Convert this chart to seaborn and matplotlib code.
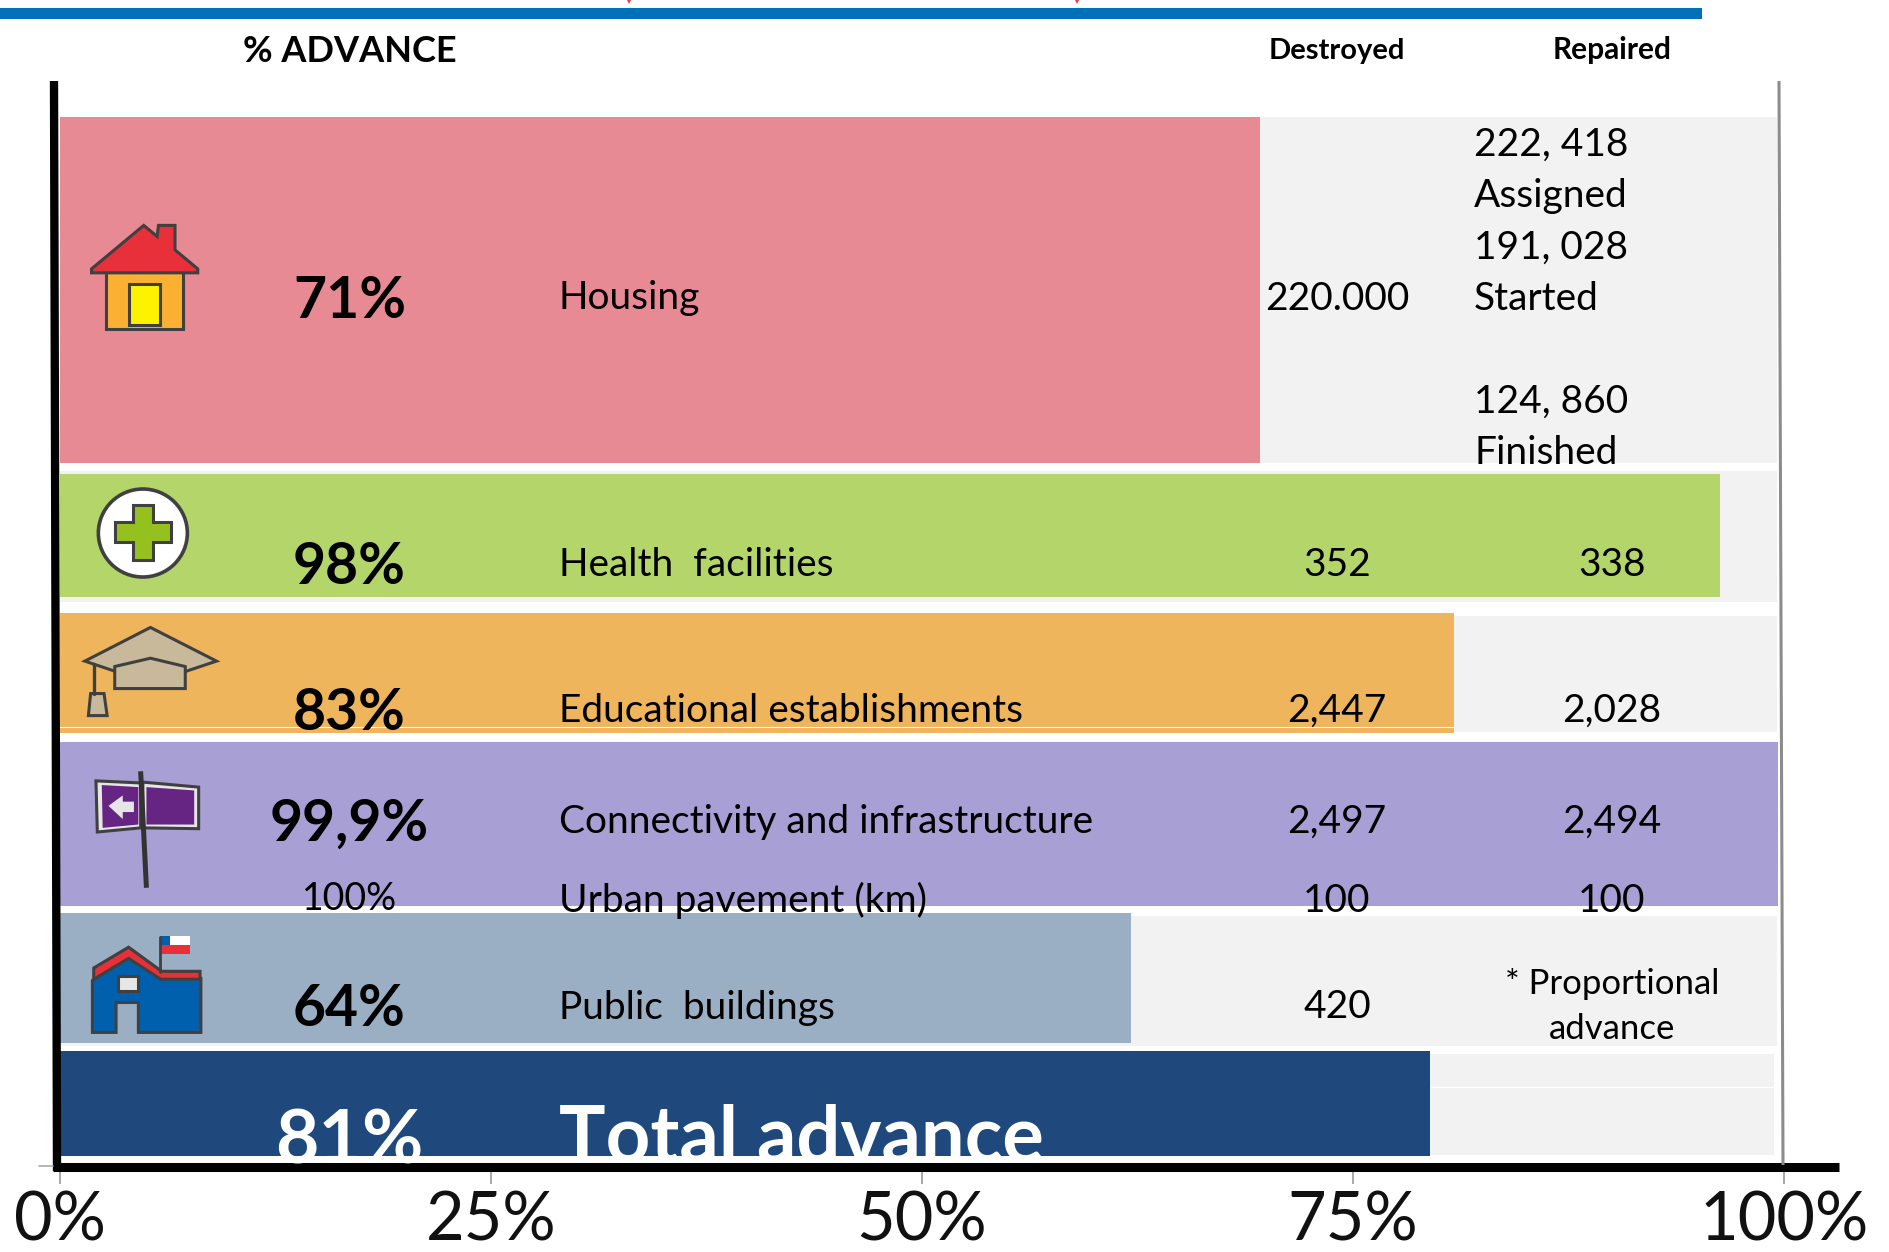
import matplotlib
matplotlib.use('Agg')
import matplotlib.pyplot as plt
from matplotlib.patches import Polygon, Rectangle, Ellipse
import pandas as pd
import seaborn as sns

categories = ['Housing', 'Health  facilities', 'Educational establishments',
              'Connectivity and infrastructure', 'Public  buildings', 'Total advance']
bar_values = [69.6, 96.3, 80.85, 99.65, 62.15, 79.45]
backdrop_values = [99.6, 99.6, 99.6, 99.6, 99.6, 99.4]
percent_labels = ['71%', '98%', '83%', '99,9%', '64%', '81%']
destroyed = ['220.000', '352', '2,447', '2,497', '420']
repaired = ['338', '2,028', '2,494']
housing_repaired = ['222, 418', 'Assigned', '191, 028', 'Started', '124, 860', 'Finished']
tick_values = [0, 25, 50, 75, 100]
tick_labels = ['0%', '25%', '50%', '75%', '100%']
bar_colors = ['#E78A94', '#B3D56A', '#EFB55C', '#A8A0D4', '#9AAEC4', '#1F497D']

# layout, in pixels of the 1890x1252 picture
W, H = 1890, 1252
bar_rows = [(117, 463), (474, 597), (612.5, 733), (742, 906), (913, 1043), (1051, 1156)]
back_rows = [(117, 463), (470.5, 602), (616, 732), (745, 906), (916, 1046), (1054, 1155)]

sns.set_theme(style='white')
plt.rcParams['font.family'] = ['Lato', 'DejaVu Sans']

fig = plt.figure(figsize=(W / 100, H / 100), dpi=100)
ax = fig.add_axes([60 / W, 1 - 1171 / H, (1784 - 60) / W, (1171 - 81) / H])

df = pd.DataFrame({'category': categories, 'value': bar_values, 'back': backdrop_values})


def fit_rows(patches, rows):
    for patch, (top, bottom) in zip(patches, rows):
        patch.set_y(top)
        patch.set_height(bottom - top)


sns.barplot(data=df, y='category', x='back', color='#F2F2F2', saturation=1, linewidth=0, ax=ax)
n_back = len(ax.patches)
sns.barplot(data=df, y='category', x='value', hue='category', palette=bar_colors, dodge=False,
            saturation=1, linewidth=0, legend=False, ax=ax)
fit_rows(ax.patches[:n_back], back_rows)
fit_rows(ax.patches[n_back:], bar_rows)

ax.set_xlim(0, 100)
ax.set_ylim(1171, 81)
ax.set_xlabel('')
ax.set_ylabel('')
ax.set_yticks([])
ax.set_xticks(tick_values)
ax.set_xticklabels(tick_labels, fontsize=48, color='#111111')
ax.tick_params(axis='x', length=9.4, width=1.2, color='#999999', pad=4.5, bottom=True)
ax.patch.set_alpha(0)
sns.despine(ax=ax, left=True, bottom=True, right=True, top=True)

# overlay in picture pixels, for the icons, notes and hand drawn axis lines
ov = fig.add_axes([0, 0, 1, 1])
ov.set_xlim(0, W)
ov.set_ylim(H, 0)
ov.axis('off')
ov.patch.set_alpha(0)

ov.add_patch(Rectangle((0, 8), 1702, 11, color='#0070B8', lw=0))
# ends of a red title cut off by the top edge of the picture
ov.plot([628.5, 1077], [1, 1], ls='none', marker='v', ms=4.5, color='#EE3B45', mew=0)
ov.plot([54, 57], [81, 1171], color='black', lw=6, solid_capstyle='butt')
ov.plot([53, 1839], [1166.5, 1166.5], color='black', lw=6.5, solid_capstyle='butt')
ov.plot([1779, 1783], [81, 1165], color='#8C8C8C', lw=2.2, solid_capstyle='butt')
ov.plot([39, 53], [1165.5, 1165.5], color='#AAAAAA', lw=1.2)
ov.plot([60, 1454], [727, 727], color='white', lw=0.8)
ov.plot([1431, 1775], [1087, 1087], color='white', lw=0.8)


def note(x, y, s, size=28, clip=None, **kw):
    kw.setdefault('ha', 'center')
    t = ov.text(x, y, s, fontsize=size, va='center_baseline', color=kw.pop('color', 'black'), **kw)
    if clip is not None:
        t.set_clip_path(Rectangle((0, 0), W, clip, transform=ov.transData))
    return t


note(349.5, 48, '% ADVANCE', size=26, fontweight='bold')
note(1337, 48, 'Destroyed', size=21, fontweight='bold')
note(1612, 48, 'Repaired', size=21.5, fontweight='bold')

row_y = [295, 561, 707, 818, 1004]
for y, cat, pct, dest in zip(row_y, categories, percent_labels, destroyed):
    note(349.5, y + 1, pct, size=41, fontweight='bold')
    note(559, y, cat, ha='left')
    note(1337, y, dest)

for y, rep in zip(row_y[1:4], repaired):
    note(1612, y, rep)

note(349.5, 895, '100%', size=27)
note(559, 897, 'Urban pavement (km)', ha='left')
note(1337, 897, '100')
note(1612, 897, '100')

for y, line in zip([141, 193, 244, 295, 398, 449], housing_repaired):
    note(1474, y, line, ha='left', clip=463)

note(1612, 981, '* Proportional', size=25)
note(1612, 1026, 'advance', size=25)
note(349.5, 1135, percent_labels[5], size=54, fontweight='bold', color='white', clip=1156)
note(559, 1133, categories[5], size=56, fontweight='bold', color='white', ha='left', clip=1156)


def z1(pts):
    return [(x / 2.24, y / 2.529) for x, y in pts]


def z2(pts):
    return [(x / 2.24, 600 + y / 2.405) for x, y in pts]


def box(x0, y0, x1, y1):
    return [(x0, y0), (x1, y0), (x1, y1), (x0, y1)]


def shape(pts, fc, ec='#404040', lw=2.2):
    ov.add_patch(Polygon(pts, closed=True, fc=fc, ec=ec, lw=lw, joinstyle='miter'))


dark = '#404040'
# house
shape(z1(box(238, 685, 410, 833)), '#FBB034')
shape(z1(box(290, 718, 358, 822)), '#FFF200')
shape(z1([(205, 680), (322, 570), (352, 598), (355, 570), (392, 570), (392, 632), (443, 680), (443, 690), (205, 690)]), '#E8303A')
# health cross
cx, cy = z1([(320, 1348)])[0]
ov.add_patch(Ellipse((cx, cy), 89, 88, fc='white', ec=dark, lw=2.6))
shape(z1([(297, 1278), (343, 1278), (343, 1320), (383, 1320), (383, 1370), (343, 1370), (343, 1415),
          (297, 1415), (297, 1370), (257, 1370), (257, 1320), (297, 1320)]), '#95C11F')
# graduation cap
shape(z2([(190, 147), (337, 66), (485, 147), (337, 200)]), '#C9B99B')
shape(z2([(257, 160), (337, 140), (415, 160), (415, 213), (257, 213)]), '#C9B99B')
ov.plot(*zip(*z2([(210, 155), (210, 225)])), color=dark, lw=2.4)
shape(z2([(203, 225), (233, 225), (240, 278), (198, 278)]), '#C9B99B')
# road sign
shape(z2([(215, 435), (315, 440), (315, 548), (218, 558)]), '#E6E6E6')
shape(z2([(228, 445), (310, 450), (310, 540), (230, 548)]), '#662483', ec='none', lw=0)
shape(z2([(320, 438), (445, 450), (445, 550), (320, 548)]), '#E6E6E6')
shape(z2([(328, 450), (435, 458), (435, 540), (328, 540)]), '#662483', ec='none', lw=0)
shape(z2([(243, 495), (275, 470), (275, 485), (300, 485), (300, 510), (275, 510), (275, 527)]), '#E6E6E6', ec='none', lw=0)
ov.plot(*zip(*z2([(315, 412), (328, 692)])), color='#333333', lw=3.6, solid_capstyle='butt')
# public building
ov.plot(*zip(*z2([(358, 810), (358, 895)])), color=dark, lw=2)
shape(z2(box(358, 808, 425, 830)), 'white', ec='none', lw=0)
shape(z2(box(358, 830, 425, 852)), '#E8303A', ec='none', lw=0)
shape(z2(box(358, 808, 380, 830)), '#0060AE', ec='none', lw=0)
shape(z2([(207, 915), (288, 860), (362, 910), (450, 910), (450, 1040), (310, 1040), (310, 968),
          (260, 968), (260, 1040), (207, 1040)]), '#0060AE')
shape(z2([(210, 885), (288, 835), (362, 893), (448, 893), (448, 912), (360, 912), (288, 862), (210, 912)]), '#E8303A')
shape(z2(box(265, 905, 308, 940)), '#E6E6E6')

fig.savefig('out.png', dpi=100)
